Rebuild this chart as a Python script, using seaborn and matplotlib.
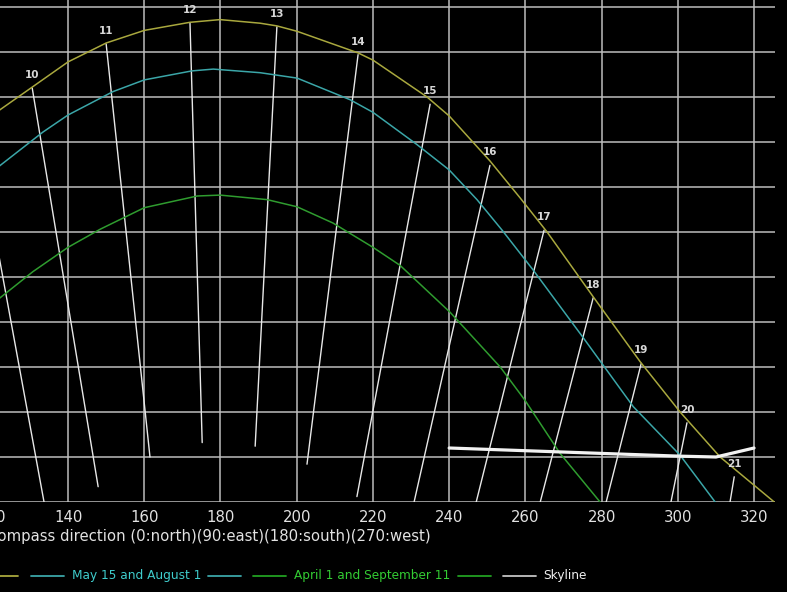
import numpy as np
import pandas as pd
import matplotlib
matplotlib.use("Agg")
import matplotlib.pyplot as plt
from matplotlib.lines import Line2D
import seaborn as sns

# ── data (azimuth in degrees, altitude in degrees) ────────────────────────────
SUMMER_AZ  = [116.0, 122.2, 130.6, 140.0, 150.0, 160.0, 172.0, 179.9, 190.4, 194.8,
              200.1, 216.1, 220.0, 234.2, 240.0, 250.7, 258.6, 265.7, 277.8, 290.1,
              300.6, 311.1, 325.3]
SUMMER_ALT = [41.5, 43.6, 46.1, 48.9, 51.0, 52.4, 53.3, 53.6, 53.2, 52.9,
              52.3, 49.9, 49.1, 45.0, 42.9, 37.9, 33.8, 30.0, 22.8, 15.6,
              10.0, 5.0, 0.0]

MAY_AZ  = [116.0, 122.2, 133.4, 140.0, 151.8, 160.0, 172.5, 178.1, 190.4, 200.1,
           214.0, 220.0, 231.6, 240.0, 247.3, 253.9, 262.0, 275.1, 288.3, 300.6,
           309.8]
MAY_ALT = [35.3, 37.4, 41.1, 43.0, 45.6, 46.9, 47.9, 48.1, 47.7, 47.1,
           44.7, 43.3, 39.7, 36.9, 33.6, 30.2, 25.8, 18.3, 10.6, 5.2,
           0.0]

APR_AZ  = [116.0, 122.2, 130.8, 140.0, 148.4, 160.0, 173.9, 179.9, 192.2, 200.1,
           209.5, 220.0, 227.1, 240.2, 253.4, 259.9, 269.1, 279.6]
APR_ALT = [20.4, 22.7, 25.6, 28.3, 30.3, 32.7, 34.0, 34.1, 33.6, 32.8,
           31.0, 28.3, 26.3, 21.1, 15.0, 11.3, 5.4, 0.0]

SKYLINE_AZ  = [240, 300, 310, 320]
SKYLINE_ALT = [6.0, 5.1, 5.0, 6.0]

HOURS    = [9, 10, 11, 12, 13, 14, 15, 16, 17, 18, 19, 20, 21]
TOP_AZ   = [115.7, 130.6, 150.0, 172.0, 194.8, 216.1, 235.0, 250.7, 264.9, 277.8, 290.4, 302.4, 314.8]
TOP_ALT  = [41.6, 46.0, 50.9, 53.2, 52.8, 49.7, 44.2, 37.4, 30.2, 22.7, 15.4, 8.8, 2.8]
END_AZ   = [133.7, 147.9, 161.5, 175.2, 189.1, 202.7, 215.8, 230.8, 247.1, 263.9, 281.2, 298.2, 313.7]
END_ALT  = [0.0, 1.7, 5.0, 6.6, 6.2, 4.2, 0.6, 0.0, 0.0, 0.0, 0.0, 0.0, 0.0]

SERIES = ["June 21", "May 15 and August 1", "April 1 and September 11", "Skyline"]

# ── style ─────────────────────────────────────────────────────────────────────
BG      = "#000000"
GRID    = "#bdbdbd"
FG      = "#e2e2e2"
YELLOW  = "#a9a83e"
CYAN    = "#3ba6a8"
GREEN   = "#2f9c2f"
WHITE   = "#f2f2f2"
TXT_COL = ["#c8c84a", "#3fcccc", "#33cc33", "#f0f0f0"]
LEG_COL = [YELLOW, CYAN, "#22a022", "#c4c4c4"]

sns.set_theme(style="darkgrid", rc={
    "figure.facecolor": BG,
    "axes.facecolor":   BG,
    "axes.edgecolor":   BG,
    "grid.color":       GRID,
    "grid.linewidth":   1.1,
    "text.color":       FG,
    "axes.labelcolor":  FG,
    "xtick.color":      FG,
    "ytick.color":      FG,
})
plt.rcParams["font.family"] = ["DejaVu Sans"]

W, H = 787, 592
fig = plt.figure(figsize=(W / 100, H / 100), dpi=100)
# axes run past the left/top edge of the picture (cropped view)
ax = fig.add_axes([-356.9 / W, 90 / H, 1131.9 / W, 540 / H])

# hour lines
hours_df = pd.DataFrame({
    "hour": HOURS * 2,
    "az":   TOP_AZ + END_AZ,
    "alt":  TOP_ALT + END_ALT,
})
sns.lineplot(data=hours_df, x="az", y="alt", units="hour", estimator=None,
             sort=False, color="#e8e8e8", lw=1.0, ax=ax, legend=False)
for h, a, e in zip(HOURS, TOP_AZ, TOP_ALT):
    ax.annotate(str(h), xy=(a, e), xytext=(0, 9.5), textcoords="offset points",
                ha="center", va="center", fontsize=7.5, fontweight="semibold",
                color="#d8d8d8", annotation_clip=False)

# sun paths + skyline
sns.lineplot(x=SUMMER_AZ, y=SUMMER_ALT, sort=False, color=YELLOW, lw=1.1, ax=ax)
sns.lineplot(x=MAY_AZ, y=MAY_ALT, sort=False, color=CYAN, lw=1.1, ax=ax)
sns.lineplot(x=APR_AZ, y=APR_ALT, sort=False, color=GREEN, lw=1.1, ax=ax)
sns.lineplot(x=SKYLINE_AZ, y=SKYLINE_ALT, sort=False, color=WHITE, lw=2.3, ax=ax)

ax.set_xlim(28.5, 325.5)
ax.set_ylim(0, 60)
ax.set_xticks(np.arange(40, 321, 20))
ax.set_yticks(np.arange(0, 61, 5))
ax.tick_params(length=0, pad=6, labelsize=10.7)
ax.set_ylabel("")
ax.set_xlabel("Compass direction (0:north)(90:east)(180:south)(270:west)",
              fontsize=10.7, labelpad=3)
for s in ax.spines.values():
    s.set_visible(False)

# legend row (line, text, line), chained left to right in pixel units
renderer = fig.canvas.get_renderer()
y_leg = 1 - 576 / H


def hline(x0, x1, color):
    fig.add_artist(Line2D([x0 / W, x1 / W], [y_leg, y_leg], color=color,
                          lw=1.3, transform=fig.transFigure))


# first entry is cut off by the left edge
fig.text(-22 / W, y_leg, SERIES[0], color=TXT_COL[0], fontsize=8.7,
         ha="right", va="center")
hline(-15, 18, LEG_COL[0])

x = 31
for i in range(1, 4):
    hline(x, x + 33, LEG_COL[i])
    t = fig.text((x + 41) / W, y_leg, SERIES[i], color=TXT_COL[i], fontsize=8.7,
                 ha="left", va="center")
    bb = t.get_window_extent(renderer)
    x = bb.x1 + 7
    if i < 3:
        hline(x, x + 33, LEG_COL[i])
        x = x + 45

fig.savefig("out.png", dpi=100, facecolor=BG)
